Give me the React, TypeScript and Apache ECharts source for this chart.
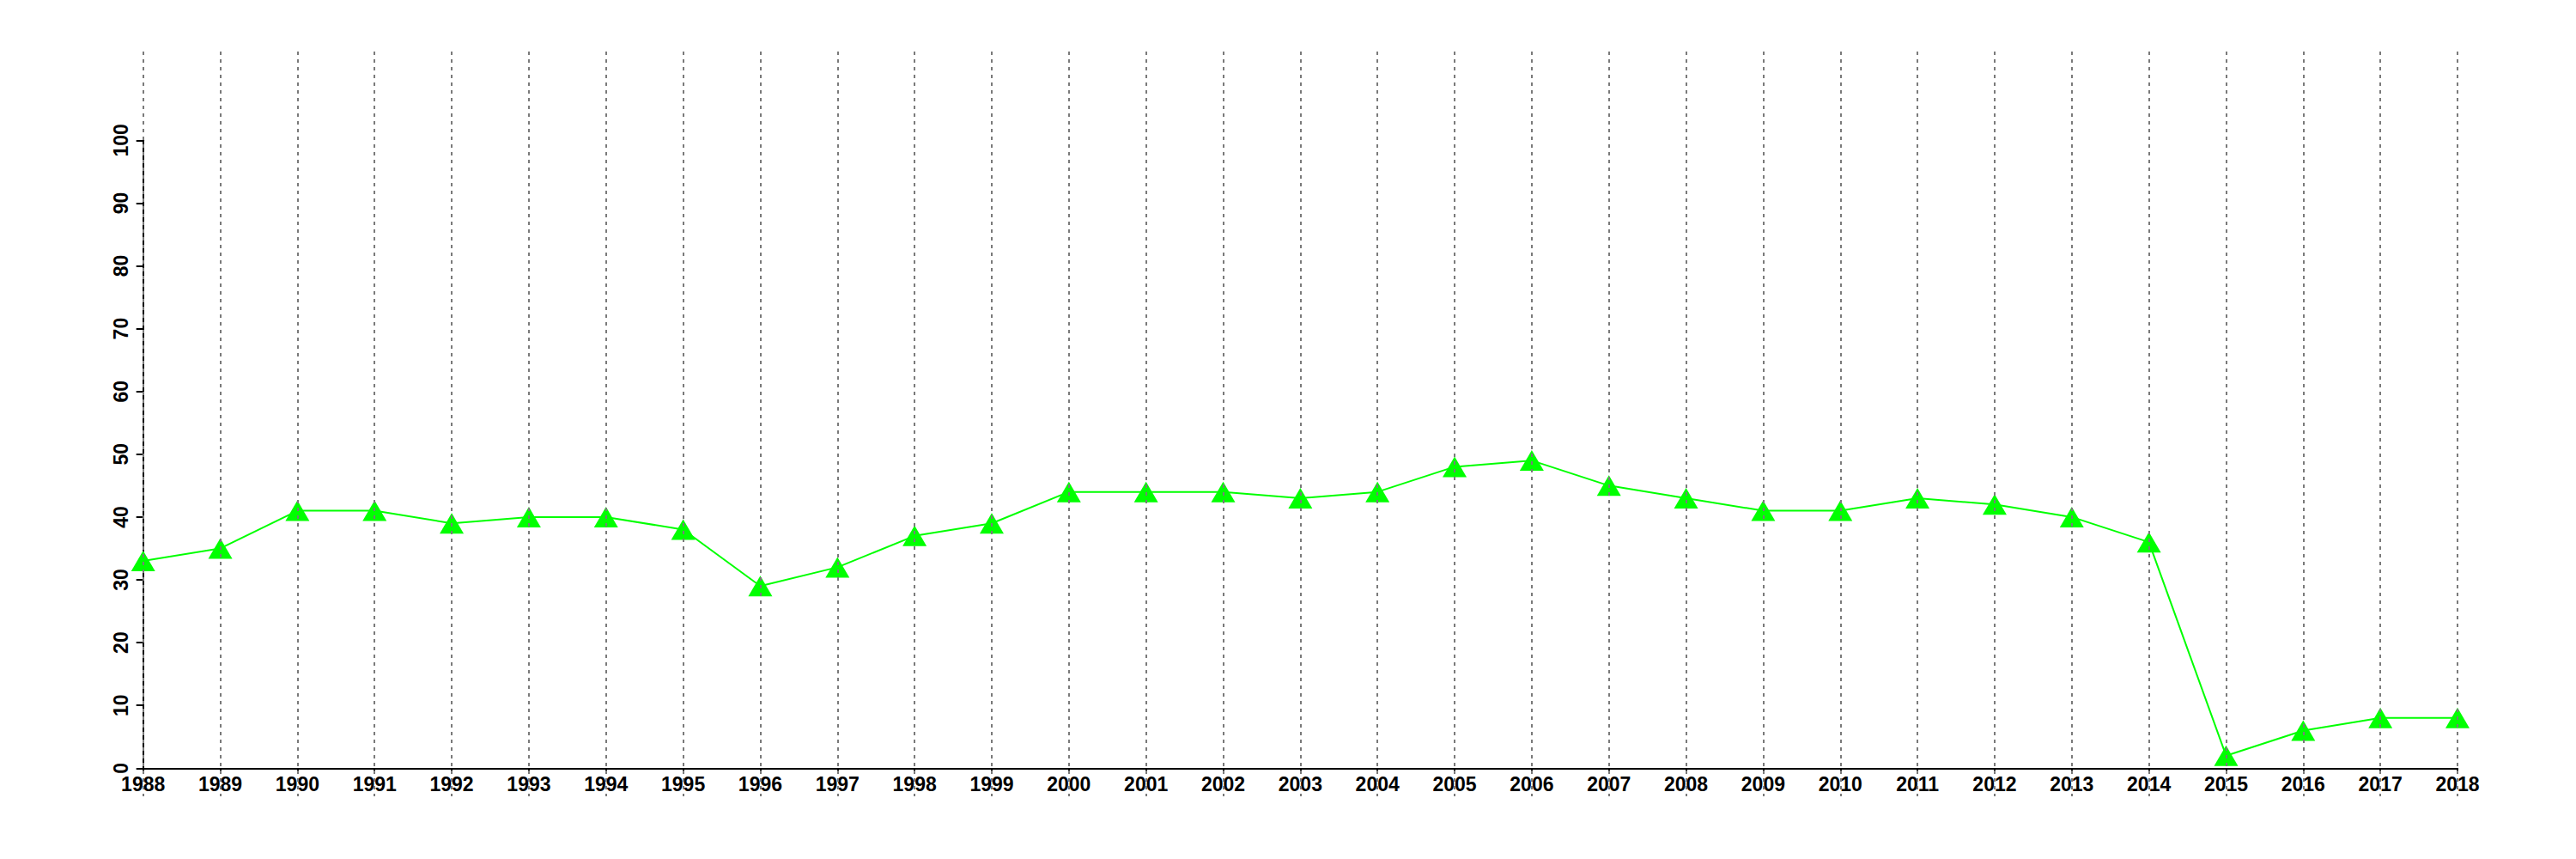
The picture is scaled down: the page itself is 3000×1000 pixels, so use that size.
import React, { useEffect, useRef } from "react";
import * as echarts from "echarts";

const years = [
  "1988", "1989", "1990", "1991", "1992", "1993", "1994", "1995", "1996", "1997",
  "1998", "1999", "2000", "2001", "2002", "2003", "2004", "2005", "2006", "2007",
  "2008", "2009", "2010", "2011", "2012", "2013", "2014", "2015", "2016", "2017", "2018",
];
const values = [
  33, 35, 41, 41, 39, 40, 40, 38, 29, 32,
  37, 39, 44, 44, 44, 43, 44, 48, 49, 45,
  43, 41, 41, 43, 42, 40, 36, 2, 6, 8, 8,
];
const yMin = 0;
const yMax = 100;
const yStep = 10;

export default function App() {
  const ref = useRef<HTMLDivElement>(null);
  useEffect(() => {
    if (!ref.current) return;
    const chart = echarts.init(ref.current, undefined, { renderer: "svg" });
    const font = "'Liberation Sans', Arial, Helvetica, sans-serif";
    chart.setOption({
      animation: false,
      backgroundColor: "#ffffff",
      grid: [
        { left: 166.7, right: 138, top: 163.3, bottom: 105.7, containLabel: false },
        { left: 166.7, right: 138, top: 60, bottom: 73, containLabel: false },
      ],
      xAxis: [
        {
          type: "category",
          gridIndex: 0,
          data: years,
          boundaryGap: false,
          axisLine: { show: true, lineStyle: { color: "#000", width: 2 } },
          axisTick: { show: true, inside: false, length: 6, interval: 0, lineStyle: { color: "#000", width: 2 } },
          axisLabel: {
            show: true,
            interval: 0,
            margin: 7,
            color: "#000",
            fontSize: 23,
            fontWeight: "bold",
            fontFamily: font,
          },
          splitLine: { show: false },
        },
        {
          type: "category",
          gridIndex: 1,
          data: years,
          boundaryGap: false,
          z: 10,
          axisLine: { show: false },
          axisTick: { show: false },
          axisLabel: { show: false },
          splitLine: {
            show: true,
            interval: 0,
            lineStyle: { color: "#7a7a7a", width: 2, type: [4, 5] },
          },
        },
      ],
      yAxis: [
        {
          type: "value",
          gridIndex: 0,
          min: yMin,
          max: yMax,
          interval: yStep,
          axisLine: { show: true, lineStyle: { color: "#000", width: 2 } },
          axisTick: { show: true, inside: false, length: 8, lineStyle: { color: "#000", width: 2 } },
          axisLabel: {
            show: true,
            rotate: 90,
            margin: 14,
            color: "#000",
            fontSize: 23,
            fontWeight: "bold",
            fontFamily: font,
          },
          splitLine: { show: false },
        },
        {
          type: "value",
          gridIndex: 1,
          min: 0,
          max: 1,
          show: false,
          splitLine: { show: false },
        },
      ],
      series: [
        {
          type: "line",
          xAxisIndex: 0,
          yAxisIndex: 0,
          data: values,
          symbol: "triangle",
          symbolSize: [28, 24],
          showAllSymbol: true,
          lineStyle: { color: "#00ff00", width: 2 },
          itemStyle: { color: "#00ff00" },
          z: 2,
        },
      ],
    });
    return () => chart.dispose();
  }, []);
  return (
    <div
      ref={ref}
      style={{ position: "fixed", left: 0, top: 0, width: 3000, height: 1000, background: "#fff" }}
    />
  );
}
